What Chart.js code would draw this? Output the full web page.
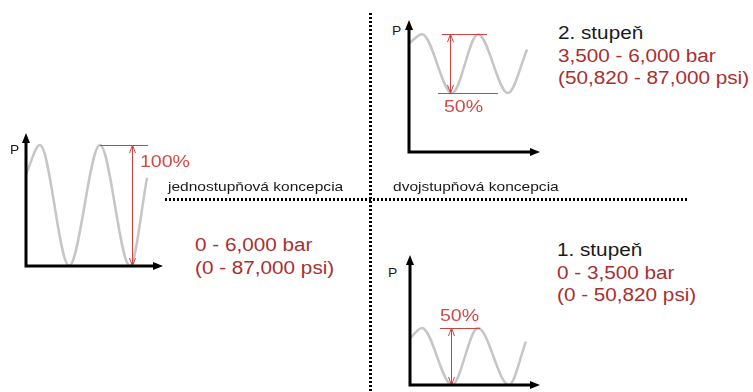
<!DOCTYPE html>
<html>
<head>
<meta charset="utf-8">
<script src="https://cdn.jsdelivr.net/npm/chart.js@4"></script>
<style>
  body { margin: 0; width: 753px; height: 392px; background: #fff; position: relative; overflow: hidden;
         font-family: "Liberation Sans", Arial, sans-serif; }
  canvas { position: absolute; }
  .t { position: absolute; white-space: nowrap; transform: scaleX(1.15); transform-origin: 0 0; }
  .big { font-size: 18px; line-height: 22.5px; color: #1a1a1a; }
  .red { color: #a83030; }
  .pct { font-size: 17px; line-height: 20px; color: #d24a48; }
  .small { font-size: 13.5px; line-height: 16px; color: #1a1a1a; }
  .p { font-size: 12px; line-height: 14px; color: #1a1a1a; }
  .hdots { position: absolute; left: 165px; top: 198px; width: 523px; height: 3px;
           background: repeating-linear-gradient(90deg, #000 0 2.5px, transparent 2.5px 4px); }
  .vdots { position: absolute; left: 369px; top: 13px; width: 3px; height: 379px;
           background: repeating-linear-gradient(180deg, #000 0 2.5px, transparent 2.5px 4px); }
</style>
</head>
<body>
<div class="hdots"></div>
<div class="vdots"></div>

<canvas id="single" width="149" height="143" style="left:20px;top:129px"></canvas>
<canvas id="stage2" width="143" height="142" style="left:403px;top:16px"></canvas>
<canvas id="stage1" width="142" height="140" style="left:404px;top:251px"></canvas>

<div class="t p" style="left:10px;top:143px">P</div>
<div class="t p" style="left:392px;top:24px">P</div>
<div class="t p" style="left:388px;top:266px">P</div>

<div class="t pct" style="left:140px;top:152px">100%</div>
<div class="t pct" style="left:444px;top:97px">50%</div>
<div class="t pct" style="left:440px;top:306px">50%</div>

<div class="t small" style="left:168px;top:179px">jednostupňová koncepcia</div>
<div class="t small" style="left:393px;top:179px">dvojstupňová koncepcia</div>

<div class="t big red" style="left:195px;top:234px">0 - 6,000 bar<br>(0 - 87,000 psi)</div>
<div class="t big" style="left:558px;top:22px">2. stupeň<br><span class="red">3,500 - 6,000 bar<br>(50,820 - 87,000 psi)</span></div>
<div class="t big" style="left:557px;top:239px">1. stupeň<br><span class="red">0 - 3,500 bar<br>(0 - 50,820 psi)</span></div>

<script>
// time in quarter-cycles, pressure in % of 6,000 bar
var singleT = [0, 0.93, 2.87, 4.93, 6.93, 8.07];
var singleP = [76, 100, 0, 100, 0, 73];
var stage2T = [0, 0.87, 2.87, 4.6, 6.6, 7.87];
var stage2P = [92, 100, 50, 100, 50, 87];
var stage1T = [0, 0.8, 2.8, 4.53, 6.6, 7.73];
var stage1P = [41, 50, 0, 50, 0, 38];

// red marks: [level, tFrom, tTo] and arrow [t, from, to]
var singleLines = [[100, 4.93, 8.13]];
var singleArrow = [7.07, 0, 100];
var stage2Lines = [[100, 2.2, 5.2], [50, 1.93, 5.93]];
var stage2Arrow = [2.73, 50, 100];
var stage1Lines = [[50, 2.0, 4.67]];
var stage1Arrow = [2.73, 0, 50];

var panelDecor = {
  id: 'panelDecor',
  afterDatasetsDraw: function(chart, args, opts) {
    var ctx = chart.ctx, a = chart.chartArea;
    var xs = chart.scales.x, ys = chart.scales.y;
    ctx.save();
    // red level lines
    ctx.strokeStyle = '#c94442';
    ctx.lineWidth = 1;
    opts.lines.forEach(function(l) {
      var y = Math.round(ys.getPixelForValue(l[0])) + 0.5;
      ctx.beginPath();
      ctx.moveTo(xs.getPixelForValue(l[1]), y);
      ctx.lineTo(xs.getPixelForValue(l[2]), y);
      ctx.stroke();
    });
    // double arrow
    var ax = Math.round(xs.getPixelForValue(opts.arrow[0])) + 0.5;
    var y1 = ys.getPixelForValue(opts.arrow[1]), y2 = ys.getPixelForValue(opts.arrow[2]);
    ctx.beginPath();
    ctx.moveTo(ax, y1); ctx.lineTo(ax, y2);
    ctx.moveTo(ax - 3, y2 + 8); ctx.lineTo(ax, y2); ctx.lineTo(ax + 3, y2 + 8);
    ctx.moveTo(ax - 3, y1 - 8); ctx.lineTo(ax, y1); ctx.lineTo(ax + 3, y1 - 8);
    ctx.stroke();
    // black axes with arrow heads
    ctx.strokeStyle = '#000';
    ctx.fillStyle = '#000';
    ctx.lineWidth = 3;
    ctx.beginPath();
    ctx.moveTo(a.left, a.top + 6);
    ctx.lineTo(a.left, a.bottom);
    ctx.lineTo(a.right - 6, a.bottom);
    ctx.stroke();
    ctx.beginPath();
    ctx.moveTo(a.left, a.top); ctx.lineTo(a.left - 4, a.top + 10); ctx.lineTo(a.left + 4, a.top + 10);
    ctx.closePath(); ctx.fill();
    ctx.beginPath();
    ctx.moveTo(a.right, a.bottom); ctx.lineTo(a.right - 10, a.bottom - 4); ctx.lineTo(a.right - 10, a.bottom + 4);
    ctx.closePath(); ctx.fill();
    ctx.restore();
  }
};

function makePanel(id, t, p, xMax, yMax, lines, arrow) {
  new Chart(document.getElementById(id), {
    type: 'line',
    data: {
      datasets: [{
        data: t.map(function(x, i) { return {x: x, y: p[i]}; }),
        borderColor: '#c6c6c6',
        borderWidth: 2.5,
        pointRadius: 0,
        cubicInterpolationMode: 'monotone',
        fill: false
      }]
    },
    options: {
      responsive: false,
      animation: false,
      events: [],
      layout: { padding: { left: 6, right: 6, top: 4, bottom: 6 } },
      scales: {
        x: { type: 'linear', min: 0, max: xMax, display: false },
        y: { min: 0, max: yMax, display: false }
      },
      plugins: {
        legend: { display: false },
        tooltip: { enabled: false },
        panelDecor: { lines: lines, arrow: arrow }
      }
    },
    plugins: [panelDecor]
  });
}

makePanel('single', singleT, singleP, 9.13, 110, singleLines, singleArrow);
makePanel('stage2', stage2T, stage2P, 8.73, 112, stage2Lines, stage2Arrow);
makePanel('stage1', stage1T, stage1P, 8.67, 114, stage1Lines, stage1Arrow);
</script>
</body>
</html>
